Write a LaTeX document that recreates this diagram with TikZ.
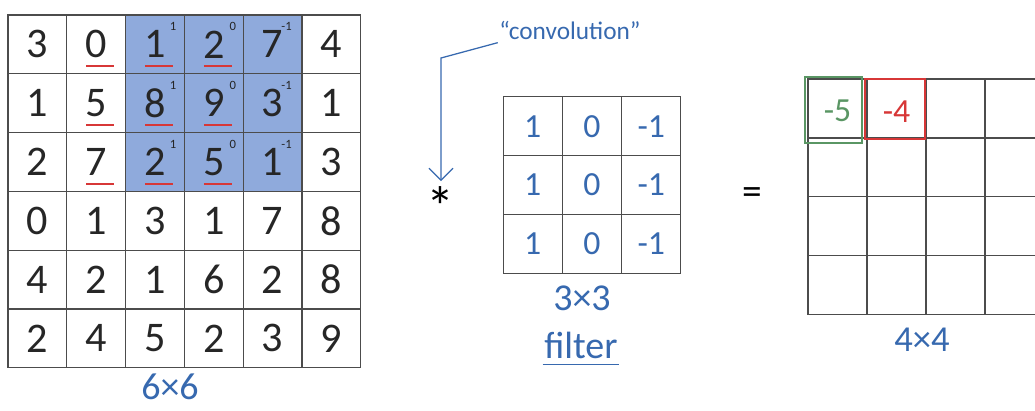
\documentclass[tikz,border=0pt]{standalone}
\usepackage{fontspec}
\setmainfont{Carlito}
\usetikzlibrary{arrows.meta,positioning}
\definecolor{winblue}{RGB}{143,170,220}
\definecolor{pen}{RGB}{55,105,175}
\definecolor{penred}{RGB}{215,55,55}
\definecolor{pengreen}{RGB}{90,150,100}

\begin{document}
\begin{tikzpicture}[x=0.025cm, y=-0.025cm,
  incell/.style={draw=black!70, line width=0.9pt, minimum size=1.47cm, inner sep=0pt, text=black!85, font=\fontsize{30}{32}\selectfont},
  fcell/.style={draw=black!70, line width=0.9pt, minimum size=1.475cm, inner sep=0pt, text=pen, font=\fontsize{24}{26}\selectfont},
  ocell/.style={draw=black!70, line width=0.9pt, minimum size=1.475cm, inner sep=0pt},
  weight/.style={inner sep=0pt, text=black!85, font=\fontsize{9}{10}\selectfont},
  redline/.style={color=penred, line width=1.3pt},
  penlabel/.style={inner sep=1pt, text=pen},
  sym/.style={inner sep=1pt, font=\fontsize{28}{30}\selectfont},
  arrow/.style={-{Straight Barb[length=3mm,width=6mm]}, draw=pen, line width=0.9pt, shorten >=3pt}
]
\clip (0,0) rectangle (1035,410);

\fill[winblue] (126,15) rectangle (302,191);
\foreach \row [count=\r from 0] in {{3,0,1,2,7,4},{1,5,8,9,3,1},{2,7,2,5,1,3},{0,1,3,1,7,8},{4,2,1,6,2,8},{2,4,5,2,3,9}}
  \foreach \v [count=\c from 0] in \row
    \node[incell] (in-\r-\c) at ({8+58.8*(\c+0.5)},{15+58.8*(\r+0.5)}) {\v};

\foreach \r in {0,1,2}
  \foreach \c in {1,2,3}
    \draw[redline] ([xshift=-0.25cm,yshift=-0.55cm]in-\r-\c.center) -- ([xshift=0.45cm,yshift=-0.55cm]in-\r-\c.center);
\foreach \r in {0,1,2}
  \foreach \w/\dx [count=\c from 2] in {1/18,0/19,-1/14}
    \node[weight] (w-\r-\c) at ([xshift=\dx*0.025cm,yshift=0.44cm]in-\r-\c.center) {\w};
\node[penlabel, font=\fontsize{27}{29}\selectfont] (insize) at (170,387) {6×6};

\node[sym, font=\fontsize{40}{42}\selectfont] (star) at (441,207) {*};
\node[penlabel, font=\fontsize{18}{20}\selectfont] (conv) at (570,30) {“convolution”};
\coordinate (bend) at (441,58);
\draw[arrow] ([yshift=-9pt]conv.west) -- (bend) -- (star.north);

\foreach \r in {0,1,2}
  \foreach \v [count=\c from 0] in {1,0,-1}
    \node[fcell] (f-\r-\c) at ({503+59.3*(\c+0.5)},{97+58.7*(\r+0.5)}) {\v};
\node[penlabel, font=\fontsize{27}{29}\selectfont] (fsize) at (582,298) {3×3};
\node[penlabel, font=\fontsize{27}{29}\selectfont] (fname) at (581,345) {filter};
\draw[draw=pen, line width=0.9pt] ([yshift=-3pt]fname.south west) -- ([yshift=-3pt]fname.south east);

\node[sym] (eq) at (752,196) {=};

\foreach \r in {0,...,3}
  \foreach \c in {0,...,3}
    \node[ocell] (out-\r-\c) at ({808+59*(\c+0.5)},{79+58.8*(\r+0.5)}) {};
\node[text=pengreen, font=\fontsize{24}{26}\selectfont] (v5) at ([yshift=-2pt]out-0-0) {-5};
\node[text=penred, font=\fontsize{24}{26}\selectfont] (v4) at ([yshift=-2pt]out-0-1) {-4};
\draw[draw=pengreen, line width=0.9pt] (805,77) rectangle (862,143);
\draw[draw=penred, line width=0.9pt] (865,79) rectangle (925,139);
\node[penlabel, font=\fontsize{26}{28}\selectfont] (osize) at (922,340) {4×4};
\end{tikzpicture}
\end{document}
